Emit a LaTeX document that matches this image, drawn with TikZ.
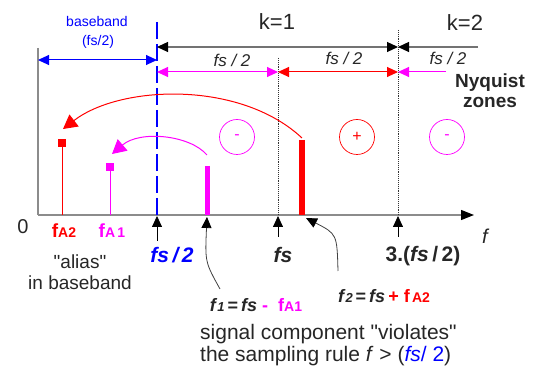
\documentclass[tikz,border=0pt]{standalone}
\usepackage{fontspec}
\setmainfont{Liberation Sans}[Ligatures=TeXOff]
\usetikzlibrary{arrows.meta}
\definecolor{mag}{RGB}{255,0,255}
\definecolor{rd}{RGB}{255,0,0}
\definecolor{bl}{RGB}{0,0,255}
\definecolor{axg}{RGB}{140,140,140}
\newcommand{\fsz}[1]{\fontsize{#1}{#1}\selectfont}
\begin{document}
\begin{tikzpicture}[x=1pt,y=-1pt,
  >={Triangle[length=11pt,width=10pt]},
  lbl/.style={inner sep=0pt, text=black!85},
  axisline/.style={draw=axg, line width=1.2pt},
  guide/.style={densely dotted, line width=0.9pt, draw=black!80},
  karrow/.style={draw=black!55, line width=1.2pt},
  zarrow/.style={line width=1pt},
  pointer/.style={draw=black!75, line width=0.8pt, -{Triangle[length=11pt,width=10pt,color=black]}},
  tick/.style={draw=black, line width=0.8pt, -{Triangle[length=11pt,width=10pt]}},
  zone/.style={circle, draw, line width=0.7pt, minimum size=35pt, inner sep=0pt, font=\fsz{16}},
  sq/.style={minimum size=8pt, inner sep=0pt}
]
\useasboundingbox (0,0) rectangle (539,371);

% axes
\coordinate (O) at (38,215);
\coordinate (Ytop) at (38,48);
\coordinate (Xend) at (474,215);
\draw[axisline] (Ytop) -- (O);
\draw[axisline, -{Triangle[length=13pt,width=10pt,color=black]}] (O) -- (Xend);

% baseband limit and zone guides
\coordinate (bT) at (157,22); \coordinate (bB) at (157,215);
\draw[bl, line width=1.6pt, dash pattern=on 17pt off 5pt] (bT) -- (bB);
\coordinate (dT1) at (278,58); \coordinate (dB1) at (278,215);
\coordinate (dT2) at (398,30); \coordinate (dB2) at (398,215);
\draw[guide] (dT1) -- (dB1);
\draw[guide] (dT2) -- (dB2);

% k arrows
\coordinate (k0) at (157,47); \coordinate (k1) at (398,47); \coordinate (k2) at (478,47);
\draw[karrow, {Triangle[length=11pt,width=10pt,color=black]}-{Triangle[length=11pt,width=10pt,color=black]}] (k0) -- (k1);
\draw[karrow, -{Triangle[length=11pt,width=10pt,color=black]}] (k2) -- (k1);
\node[lbl, font=\fsz{22}] (kone) at (277,22) {k=1};
\node[lbl, font=\fsz{22}] (ktwo) at (465,23) {k=2};

% nyquist zone arrows
\coordinate (n0) at (157,72); \coordinate (n1) at (278,72);
\coordinate (n2) at (398,72); \coordinate (n3) at (446,72);
\draw[zarrow, mag, <->] (n0) -- (n1);
\draw[zarrow, rd, <->] (n1) -- (n2);
\draw[zarrow, mag, ->] (n3) -- (n2);
\node[lbl, font=\fsz{17}\itshape] (h1) at (232,60) {fs / 2};
\node[lbl, font=\fsz{17}\itshape] (h2) at (344,58) {fs / 2};
\node[lbl, font=\fsz{17}\itshape] (h3) at (448,58) {fs / 2};
\node[lbl, font=\fsz{19}\bfseries, align=center] (nyq) at (490,91) {Nyquist\\[1pt]zones};

% baseband arrow
\coordinate (bb0) at (38,60); \coordinate (bb1) at (157,60);
\draw[zarrow, bl, <->] (bb0) -- (bb1);
\node[lbl, text=bl, font=\fsz{14}] (bbt) at (97,22) {baseband};
\node[lbl, text=bl, font=\fsz{14}] (bbf) at (98,42) {(fs/2)};

% zone signs
\node[zone, draw=mag, text=mag] (z1) at (237,137) {-};
\node[zone, draw=rd, text=rd] (z2) at (357,137) {+};
\node[zone, draw=mag, text=mag] (z3) at (447,137) {-};

% signal components
\coordinate (m1t) at (207,166); \coordinate (m1b) at (207,215);
\draw[mag, line width=5pt] (m1t) -- (m1b);
\coordinate (r1t) at (302,140); \coordinate (r1b) at (302,215);
\draw[rd, line width=6pt] (r1t) -- (r1b);

% aliases
\node[sq, fill=rd] (a2) at (62,143) {};
\coordinate (a2b) at (62,215);
\draw[rd, line width=1pt] (a2) -- (a2b);
\node[sq, fill=mag] (a1) at (110,167) {};
\coordinate (a1b) at (110,215);
\draw[mag, line width=1pt] (a1) -- (a1b);

% folding arcs
\coordinate (r1s) at (302,138); \coordinate (a2tip) at (63,129);
\draw[rd, line width=1pt, -{Triangle[length=14pt,width=15pt]}] (r1s) .. controls (240,80) and (120,85) .. (a2tip);
\coordinate (m1s) at (207,155); \coordinate (a1tip) at (112,154);
\draw[mag, line width=1pt, -{Triangle[length=14pt,width=15pt]}] (m1s) .. controls (190,135) and (140,130) .. (a1tip);

% tick arrows
\coordinate (u1) at (157,241); \coordinate (u1t) at (157,216);
\coordinate (u2) at (278,237); \coordinate (u2t) at (278,216);
\coordinate (u3) at (398,237); \coordinate (u3t) at (398,216);
\draw[tick] (u1) -- (u1t);
\draw[tick] (u2) -- (u2t);
\draw[tick] (u3) -- (u3t);

% axis labels
\node[lbl, font=\fsz{20}] (zero) at (23,227) {0};
\node[lbl, font=\fsz{20}\itshape] (flab) at (485,236) {f};
\node[lbl, text=rd, font=\fsz{19}\bfseries] (fa2) at (64,231) {f{\fsz{14}A2}};
\node[lbl, text=mag, font=\fsz{19}\bfseries] (fa1) at (112,231) {f{\fsz{14}A\,1}};
\node[lbl, text=bl, font=\fsz{21}\bfseries\itshape] (fsh) at (172,255) {fs\,/\,2};
\node[lbl, font=\fsz{21}\bfseries\itshape] (fsl) at (283,255) {fs};
\node[lbl, font=\fsz{21}\bfseries] (fs3) at (423,256) {3.(\textit{fs}\,/\,2)};
\node[lbl, font=\fsz{19}, align=center] (alias) at (80,272) {"alias"\\[2pt]in baseband};

% formulas
\node[lbl, font=\fsz{18}\bfseries] (f1) at (256,305) {\textit{f}{\fsz{13}\textit{1}}\,=\,\textit{fs}\ {\color{mag}-\ \ f{\fsz{14}A1}}};
\node[lbl, font=\fsz{18}\bfseries] (f2) at (384,296) {\textit{f}{\fsz{13}\textit{2}}\,=\,\textit{fs}\,{\color{rd}+\ f{\fsz{14}\,A2}}};
\coordinate (f1p) at (220,289); \coordinate (m1tip) at (207,217);
\draw[pointer] (f1p) .. controls (205,262) .. (m1tip);
\coordinate (f2p) at (338,271); \coordinate (r1tip) at (306,218);
\draw[pointer] (f2p) .. controls (337,234) .. (r1tip);

\node[lbl, font=\fsz{21}, align=left, anchor=west] (rule) at (200,345) {signal component "violates"\\[1pt]the sampling rule \textit{f} > ({\color{bl}\textit{fs}/ 2})};
\end{tikzpicture}
\end{document}
